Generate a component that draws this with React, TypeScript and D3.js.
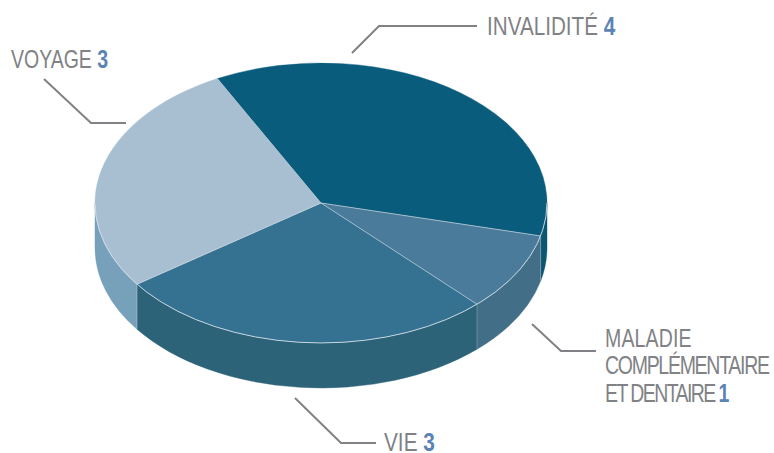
import React from "react";
import * as d3 from "d3";

const categories = ["INVALIDITÉ", "MALADIE COMPLÉMENTAIRE ET DENTAIRE", "VIE", "VOYAGE"];
const values = [4, 1, 3, 3];
const topColors = ["#0a5c7c", "#4a7b9a", "#357191", "#a8bfd1"];
const sideColors = ["#0b5670", "#426f87", "#2c6378", "#77a0bb"];
const labelLines = [["INVALIDITÉ"], ["MALADIE", "COMPLÉMENTAIRE", "ET DENTAIRE"], ["VIE"], ["VOYAGE"]];
const labelAnchors: [number, number][] = [[487, 35], [605, 347], [384, 451], [11, 68]];
const labelSqueeze = [0.795, 0.75, 0.8, 0.75];
const lineTracking = [[0], [0.2, -1.7, -2.1], [0], [0]];
const leaders: [number, number][][] = [
  [[352, 53], [379, 26], [477, 26]],
  [[532, 324], [561, 351], [596, 351]],
  [[295, 398], [341, 443], [376, 443]],
  [[44, 79], [91, 123], [126, 123]],
];

const WIDTH = 774;
const HEIGHT = 453;
const CX = 321;
const CY = 203;
const RX = 226;
const RY = 140;
const DEPTH = 45;
const START = (-27.3 * Math.PI) / 180;
const LINE_STEP = 27.5;

// Point on the tilted rim; angles run clockwise from twelve o'clock.
const rim = (a: number, dy = 0): [number, number] => [
  CX + RX * Math.sin(a),
  CY - RY * Math.cos(a) + dy,
];

const arcTo = (a0: number, a1: number, dy: number, sweep: number) => {
  const [x, y] = rim(a1, dy);
  const large = Math.abs(a1 - a0) > Math.PI ? 1 : 0;
  return `A${RX},${RY} 0 ${large} ${sweep} ${x},${y}`;
};

const topPath = (a0: number, a1: number) => {
  const [x0, y0] = rim(a0);
  return `M${CX},${CY} L${x0},${y0} ${arcTo(a0, a1, 0, 1)} Z`;
};

const FRONT_START = Math.PI / 2;
const FRONT_END = (3 * Math.PI) / 2;

// Wall of a slice: only the part of the rim facing the viewer.
const sidePath = (a0: number, a1: number) => {
  const lo = Math.max(a0, FRONT_START);
  const hi = Math.min(a1, FRONT_END);
  if (hi <= lo) return null;
  const [x0, y0] = rim(lo);
  const [x1, y1] = rim(hi, DEPTH);
  return `M${x0},${y0} ${arcTo(lo, hi, 0, 1)} L${x1},${y1} ${arcTo(hi, lo, DEPTH, 0)} Z`;
};

export default function App() {
  const slices = d3
    .pie<number>()
    .sort(null)
    .startAngle(START)
    .endAngle(START + 2 * Math.PI)(values);
  const leaderLine = d3.line();
  const font = "'Liberation Sans', sans-serif";
  const [fx, fy] = rim(FRONT_START);

  return (
    <svg
      width={WIDTH}
      height={HEIGHT}
      viewBox={`0 0 ${WIDTH} ${HEIGHT}`}
      style={{ position: "absolute", left: 0, top: 0, background: "#fff" }}
    >
      {slices.map((s, i) => {
        const d = sidePath(s.startAngle, s.endAngle);
        return d ? (
          <path key={`side-${categories[i]}`} d={d} fill={sideColors[i]} stroke={sideColors[i]} strokeWidth={0.4} />
        ) : null;
      })}
      {slices.map((s, i) => {
        const a = s.startAngle;
        if (a < FRONT_START || a > FRONT_END) return null;
        const [x0, y0] = rim(a);
        return (
          <line key={`edge-${categories[i]}`} x1={x0} y1={y0} x2={x0} y2={y0 + DEPTH} stroke="#fff" strokeOpacity={0.25} strokeWidth={1} />
        );
      })}
      {slices.map((s, i) => (
        <path
          key={`top-${categories[i]}`}
          d={topPath(s.startAngle, s.endAngle)}
          fill={topColors[i]}
          stroke={topColors[i]}
          strokeWidth={0.4}
        />
      ))}
      {/* Fine light seams between the slices and along the front rim */}
      {slices.map((s, i) => {
        const [x0, y0] = rim(s.startAngle);
        return (
          <line key={`seam-${categories[i]}`} x1={CX} y1={CY} x2={x0} y2={y0} stroke="#d5e0e8" strokeOpacity={i === 0 ? 0.25 : 0.8} strokeWidth={0.8} />
        );
      })}
      <path
        d={`M${fx},${fy} ${arcTo(FRONT_START, FRONT_END, 0, 1)}`}
        fill="none"
        stroke="#d5e0e8"
        strokeWidth={0.9}
      />
      {leaders.map((pts, i) => (
        <path key={`leader-${categories[i]}`} d={leaderLine(pts) ?? ""} fill="none" stroke="#808285" strokeWidth={2} />
      ))}
      {labelLines.map((lines, i) => (
        <g key={`label-${categories[i]}`} transform={`translate(${labelAnchors[i][0]},${labelAnchors[i][1]}) scale(${labelSqueeze[i]},1)`}>
          {lines.map((ln, j) => (
            <text
              key={ln}
              y={j * LINE_STEP}
              fontFamily={font}
              fontSize={26}
              fill="#808285"
              letterSpacing={lineTracking[i][j]}
            >
              {ln}
              {j === lines.length - 1 ? (
                <tspan fontWeight="bold" fill="#5b84b4">{` ${values[i]}`}</tspan>
              ) : null}
            </text>
          ))}
        </g>
      ))}
    </svg>
  );
}
